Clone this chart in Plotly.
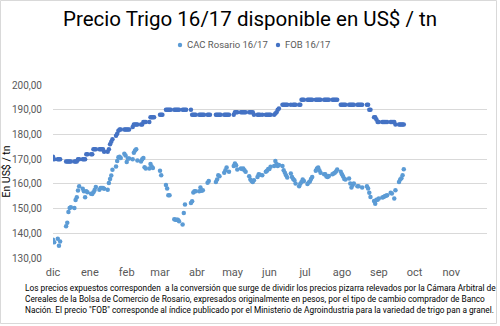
import pandas as pd
import plotly.graph_objects as go

# ---------------- data ----------------
months = ["2016-12", "2017-01", "2017-02", "2017-03", "2017-04",
          "2017-05", "2017-06", "2017-07", "2017-08", "2017-09"]

N = None
cac_dic = [137.4, 136.4, 137.8, 135.0, 136.7, N, N, 142.8, 144.3, 148.6, 150.2, 150.5,
           150.2, 153.5, 154.6, 157.3, 159.0, 158.0, 157.0, 154.6, 157.0, 156.6]
cac_ene = [156.0, 155.9, 156.6, 157.5, 158.7, 157.6, 158.3, 158.3, 158.3, 158.0, 157.6,
           160.3, 162.0, 163.4, 165.7, 167.0, 169.2, 170.8, 171.0, 170.5, 172.2, 171.5]
cac_feb = [168.8, 170.3, 170.3, 170.0, 172.6, 173.5, 174.0, 169.5, 169.0, 170.0, 170.5,
           166.7, 166.2, 166.2, 168.0, 167.0, 166.4, N, N, N]
cac_mar = [165.3, 163.5, N, 159.5, 158.1, 155.4, 155.4, N, 145.7, 145.5, 145.5, 145.5,
           144.9, 143.6, 148.2, 151.6, N, N, 152.3, 153.0, 156.5, 157.0, 157.0]
cac_abr = [157.0, 158.5, 157.2, 157.4, N, 160.4, 161.2, N, N, N, 160.8, 161.8, 163.5,
           163.1, N, 164.5, 165.5, 166.6, N, 164.9]
cac_may = [N, 167.2, 168.2, 167.5, 165.8, 166.2, 166.0, 166.2, 165.5, 164.9, 163.1,
           161.8, 161.2, 160.8, 161.5, 162.8, 163.9, 163.7, N, 163.5, 164.9, 165.3, 166.0]
cac_jun = [166.0, 166.9, 167.2, 169.2, 168.0, 167.2, 167.6, 167.2, 165.5, 164.5, 163.5,
           162.6, 164.2, 162.8, 162.0, 161.5, 160.1, 159.0, 160.0, 160.8, 161.8, 161.2]
cac_jul = [159.9, 160.5, 161.0, 162.0, 162.8, 165.3, 166.2, 166.6, 165.5, 164.5, 163.9,
           163.9, 163.0, 162.8, 163.2, 163.9, 164.2, 164.5, 165.0, 165.8, 164.9]
cac_ago = [163.9, 163.0, 162.0, 161.8, 162.2, 160.1, 158.5, 159.5, 160.1, 159.0, 159.0,
           N, N, 158.5, N, 159.0, 158.1, 156.4, 154.7, 153.1, 152.0, 153.6, 153.6]
cac_sep = [154.1, 154.5, 154.7, 155.0, 155.2, 155.4, 156.4, 156.1, N, 154.1, 157.4,
           160.8, 161.8, 162.3, 163.5, 165.9]

fob_dic = [171, 170, 170, 170, 170, N, N, 169, 169, 169, 169, 169, 169, 169, 169,
           170, 170, 170, 170, 170, 172, 172]
fob_ene = [172, 172, 174, 174, 174, 174, 174, 174, 174, 173, 173, 174, 176, 177, 178,
           179.5, 180.3, 181.5, 182, 182, 182, 182]
fob_feb = [182, 182, 182, 183, 184, 184, 184, 184, 184, 184, 185, 185, 185, 185, 187,
           187, 187, 187, N, N]
fob_mar = [188, 188, 188, 190, 190, 190, 190, 190, 190, 190, 190, 190, 190, 190, 190,
           190, 190, N, 190, 188, 188, 188, 188]
fob_abr = [188, 188, 188, 188, 188, 188, 188, 188, N, N, 188, 188, 188, 188, 188,
           188, 188, 188, 188, 188]
fob_may = [N, 188, 189, 189, 189, 189, 189, 189, 189, 189, 189, 189, 189, 189, 188,
           188, 188, 188, N, 188, 188, 188, 188]
fob_jun = [188, 188, 188, 188.5, 189, 190, 190.5, 192, 192, 192, 192, 192, 192, N,
           192, 192, 192, 192, 192, 194, 194, 194]
fob_jul = [194, 194, 194, 194, 194, 194, 194, 194, 194, 194, 194, 194, 194, 194, 194,
           194, 194, 194, 194, 194, 192]
fob_ago = [192, 192, 192, 192, 192, 192, 192, 192, 192, 192, 192, 192, 192, 192, N,
           192, 192, 190, 190, 187, 187, 186, 185]
fob_sep = [185, 185, 185, 185, 185, 185, 185, 185, 185, 185, 184, 184, 184, 184, 184, 184]

cac_by_month = [cac_dic, cac_ene, cac_feb, cac_mar, cac_abr, cac_may, cac_jun, cac_jul, cac_ago, cac_sep]
fob_by_month = [fob_dic, fob_ene, fob_feb, fob_mar, fob_abr, fob_may, fob_jun, fob_jul, fob_ago, fob_sep]

tick_dates = ["2016-12-01", "2017-01-01", "2017-02-01", "2017-03-01", "2017-04-01", "2017-05-01",
              "2017-06-01", "2017-07-01", "2017-08-01", "2017-09-01", "2017-10-01", "2017-11-01"]
tick_labels = ["dic", "ene", "feb", "mar", "abr", "may", "jun", "jul", "ago", "sep", "oct", "nov"]

series_names = ["CAC Rosario 16/17", "FOB 16/17"]
series_colors = ["#5B9BD5", "#4472C4"]

title_text = "Precio Trigo 16/17 disponible en US$ / tn"
y_title = "En US$ / tn"
note_lines = [
    "Los precios expuestos corresponden  a la conversión que surge de dividir los precios pizarra relevados por la Cámara Arbitral de",
    "Cereales de la Bolsa de Comercio de Rosario, expresados originalmente en pesos, por el tipo de cambio comprador de Banco",
    "Nación. El precio \"FOB\" corresponde al índice publicado por el Ministerio de Agroindustria para la variedad de trigo pan a granel.",
]


def build(series_by_month):
    xs, ys = [], []
    for m, vals in zip(months, series_by_month):
        start = pd.Timestamp(m + "-01")
        days = pd.bdate_range(start, start + pd.offsets.MonthEnd(0))
        for d, v in zip(days, vals):
            xs.append(d)
            ys.append(v)
    return xs, ys


cac_x, cac_y = build(cac_by_month)
fob_x, fob_y = build(fob_by_month)

# ---------------- figure ----------------
W, H = 500, 326
ML, MR, MT, MB = 53, 13, 85, 68
PW, PH = W - ML - MR, H - MT - MB


def px_x(p):
    return (p - ML) / PW


def px_y(p):
    return (H - MB - p) / PH


FONT = "Roboto, Liberation Sans, sans-serif"
grey = "#595959"

fig = go.Figure()
fig.add_trace(go.Scatter(x=cac_x, y=cac_y, mode="markers", name=series_names[0],
                         marker=dict(color=series_colors[0], size=4.5)))
fig.add_trace(go.Scatter(x=fob_x, y=fob_y, mode="markers", name=series_names[1],
                         marker=dict(color=series_colors[1], size=4.5)))

fig.update_layout(
    width=W, height=H,
    margin=dict(l=ML, r=MR, t=MT, b=MB, autoexpand=False),
    paper_bgcolor="white", plot_bgcolor="white",
    separators=",.",
    font=dict(family=FONT, size=11, color=grey),
    title=dict(text=title_text, x=0.5, xref="container", xanchor="center",
               y=1 - 19 / H, yref="container", yanchor="middle",
               font=dict(family=FONT, size=20.5, color="#000000")),
    showlegend=False,
)

fig.update_xaxes(type="date", range=["2016-12-01", "2017-12-01"],
                 tickvals=tick_dates, ticktext=tick_labels, automargin=False,
                 showgrid=False, zeroline=False, showline=False, ticks="",
                 ticklabelstandoff=6, tickfont=dict(size=11, color=grey))
fig.update_yaxes(range=[130, 200], dtick=10, tick0=130, tickformat=".2f", automargin=False,
                 showgrid=True, gridcolor="#D9D9D9", gridwidth=1,
                 zeroline=False, showline=False, ticks="",
                 ticklabelstandoff=10, tickfont=dict(size=10, color=grey),
                 title=dict(text=y_title, standoff=3, font=dict(size=10.5, color="#000000")))

# custom legend (marker + label), placed like the reference
legend_pos = [(180, 185), (278, 283)]
for name, color, (mx, tx) in zip(series_names, series_colors, legend_pos):
    fig.add_shape(type="circle", xref="paper", yref="paper",
                  xsizemode="pixel", ysizemode="pixel",
                  xanchor=px_x(mx), yanchor=px_y(45),
                  x0=-2.2, x1=2.2, y0=-2.2, y1=2.2,
                  fillcolor=color, line=dict(width=0))
    fig.add_annotation(text=name, xref="paper", yref="paper",
                       x=px_x(tx), y=px_y(45), xanchor="left", yanchor="middle",
                       showarrow=False, font=dict(family=FONT, size=9.5, color=grey))

# chart border
fig.add_shape(type="rect", xref="paper", yref="paper",
              x0=px_x(0.5), x1=px_x(496.5), y0=px_y(323.5), y1=px_y(0.5),
              line=dict(color="#D9D9D9", width=1), fillcolor="rgba(0,0,0,0)", layer="below")

for i, line in enumerate(note_lines):
    fig.add_annotation(text=line, xref="paper", yref="paper",
                       x=px_x(23), y=px_y(288 + 11 * i), xanchor="left", yanchor="middle",
                       showarrow=False, align="left",
                       font=dict(family=FONT, size=8.3, color="#000000"))

fig.write_html("out.html")
